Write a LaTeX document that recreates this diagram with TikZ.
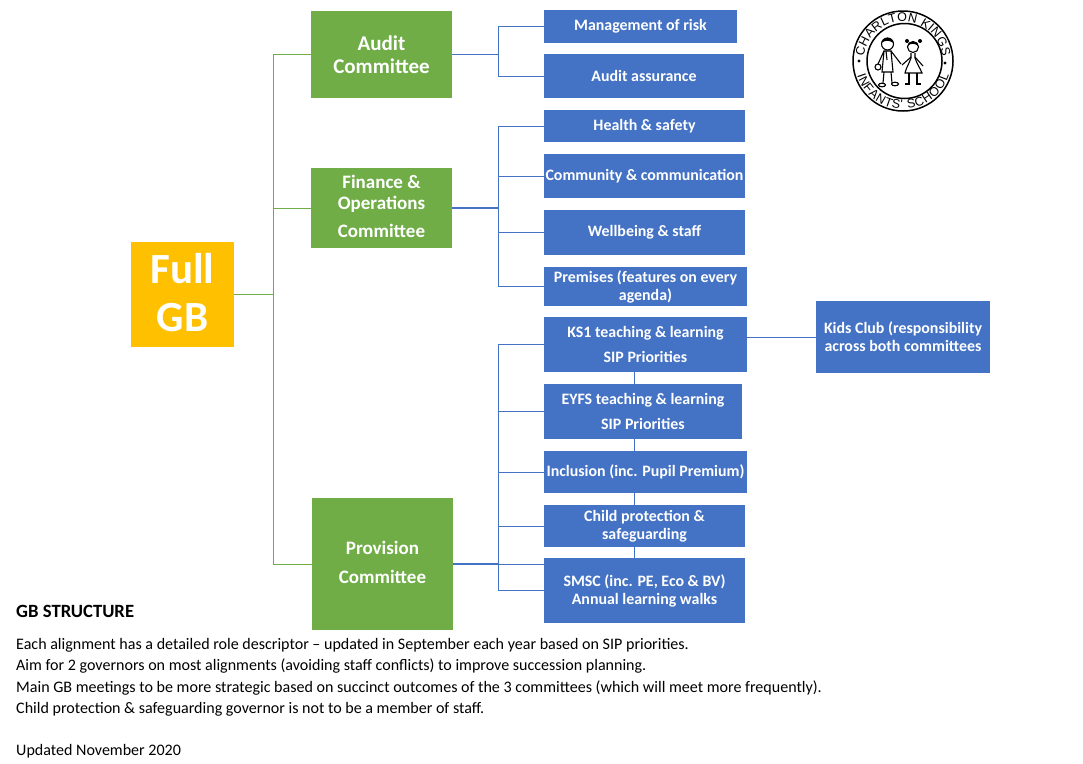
\documentclass[tikz,border=0pt]{standalone}
\usepackage{fontspec}
\setmainfont{Carlito}
\newfontfamily\logofont{Liberation Sans}
\usetikzlibrary{decorations.text}
\definecolor{gbgold}{HTML}{FFC000}
\definecolor{gbgreen}{HTML}{70AD47}
\definecolor{gbblue}{HTML}{4472C4}
\tikzset{
  fullbox/.style={fill=gbgold, text=white, inner sep=0pt, align=center, font=\fontsize{43}{48}\selectfont\bfseries},
  combox/.style={fill=gbgreen, text=white, inner sep=0pt, align=center, font=\fontsize{19}{21}\selectfont\bfseries},
  subbox/.style={fill=gbblue, text=white, inner sep=0pt, align=center, font=\fontsize{15.9}{18}\selectfont\bfseries},
  greenline/.style={draw=gbgreen, line width=0.9pt},
  blueline/.style={draw=gbblue, line width=0.9pt},
  notetext/.style={anchor=base west, inner sep=0pt, font=\fontsize{16.05}{18}\selectfont},
  logoline/.style={line width=1.1pt, black},
  logoletters/.style={decorate, decoration={text along path, text align=fit to path, text={|\logofont\fontsize{12.5}{14}\selectfont|#1}}}
}
\begin{document}
\begin{tikzpicture}[x=1pt, y=-1pt]
    \useasboundingbox (0,0) rectangle (1083,763);
    % Full GB and committees
    \node[fullbox, minimum width=103pt, minimum height=105pt] (fullgb) at (182.5,294.5) {Full\\GB\rule[-4pt]{0pt}{4pt}};
    \node[combox, minimum width=141pt, minimum height=87pt, font=\fontsize{21}{23}\selectfont\bfseries] (audit) at (381.5,54.5) {Audit\\Committee};
    \node[combox, minimum width=141pt, minimum height=80pt] (finance) at (381.5,208) {Finance \&\\Operations\\[7pt]Committee\rule[-3pt]{0pt}{3pt}};
    \node[combox, minimum width=141pt, minimum height=132pt] (provision) at (382.5,564) {Provision\\[8pt]Committee\rule[-4pt]{0pt}{4pt}};
    % Audit alignments
    \node[subbox, minimum width=193pt, minimum height=33pt] (risk) at (640.5,26.5) {Management of risk};
    \node[subbox, minimum width=200pt, minimum height=44pt] (assurance) at (644,76) {Audit assurance};
    % Finance alignments
    \node[subbox, minimum width=201pt, minimum height=32pt] (health) at (644.5,126) {Health \& safety};
    \node[subbox, minimum width=201pt, minimum height=44pt] (community) at (644.5,176) {Community \& communication};
    \node[subbox, minimum width=201pt, minimum height=45pt] (wellbeing) at (644.5,232.5) {Wellbeing \& staff};
    \node[subbox, minimum width=203pt, minimum height=39pt] (premises) at (645.5,286.5) {Premises (features on every\\agenda)};
    % Provision alignments
    \node[subbox, minimum width=203pt, minimum height=55pt] (ks1) at (645.5,344.5) {KS1 teaching \& learning\\[7pt]SIP Priorities};
    \node[subbox, minimum width=198pt, minimum height=55pt] (eyfs) at (643,411.5) {EYFS teaching \& learning\\[7pt]SIP Priorities};
    \node[subbox, minimum width=203pt, minimum height=42pt] (inclusion) at (645.5,472) {Inclusion (inc. Pupil Premium)};
    \node[subbox, minimum width=201pt, minimum height=42pt] (child) at (644.5,526) {Child protection \&\\safeguarding};
    \node[subbox, minimum width=201pt, minimum height=65pt] (smsc) at (644.5,590.5) {SMSC (inc. PE, Eco \& BV)\\Annual learning walks};
    \node[subbox, minimum width=174pt, minimum height=72pt] (kids) at (903,337) {Kids Club (responsibility\\across both committees};
    % Joins
    \coordinate (gbtrunk) at (273,294.5);
    \coordinate (auditjoin) at (498,54.5);
    \coordinate (financejoin) at (498,208);
    \coordinate (provisionjoin) at (498,564);
    \coordinate (provisionlink) at (634,0);
    % Green connectors
    \draw[greenline, line width=1.4pt] (fullgb.east) -- (gbtrunk);
    \draw[greenline] (gbtrunk) |- (audit.west);
    \draw[greenline] (gbtrunk) |- (finance.west);
    \draw[greenline] (gbtrunk) |- (provision.west);
    % Blue connectors
    \draw[blueline] (audit.east) -- (auditjoin);
    \draw[blueline] (auditjoin) |- (risk.west);
    \draw[blueline] (auditjoin) |- (assurance.west);
    \draw[blueline, line width=1.4pt] (finance.east) -- (financejoin);
    \draw[blueline] (financejoin) |- (health.west);
    \draw[blueline] (financejoin) |- (community.west);
    \draw[blueline] (financejoin) |- (wellbeing.west);
    \draw[blueline] (financejoin) |- (premises.west);
    \draw[blueline, line width=1.4pt] (provision.east) -- (provisionjoin);
    \draw[blueline] (provisionjoin) -- (smsc.west |- provisionjoin);
    \draw[blueline] (provisionjoin) |- (ks1.west);
    \draw[blueline] (provisionjoin) |- (eyfs.west);
    \draw[blueline] (provisionjoin) |- (inclusion.west);
    \draw[blueline] (provisionjoin) |- (child.west);
    \draw[blueline] (provisionjoin) |- (smsc.west);
    \draw[blueline] (ks1.south -| provisionlink) -- (eyfs.north -| provisionlink);
    \draw[blueline] (eyfs.south -| provisionlink) -- (inclusion.north -| provisionlink);
    \draw[blueline] (inclusion.south -| provisionlink) -- (child.north -| provisionlink);
    \draw[blueline] (child.south -| provisionlink) -- (smsc.north -| provisionlink);
    \draw[blueline] (ks1.east |- kids.west) -- (kids.west);
    % Notes
    \node[notetext, font=\fontsize{18.7}{20}\selectfont\bfseries] (notehead) at (16,617) {GB STRUCTURE};
    \node[notetext] (noteone) at (16,649) {Each alignment has a detailed role descriptor – updated in September each year based on SIP priorities.};
    \node[notetext] (notetwo) at (16,670) {Aim for 2 governors on most alignments (avoiding staff conflicts) to improve succession planning.};
    \node[notetext] (notethree) at (16,692) {Main GB meetings to be more strategic based on succinct outcomes of the 3 committees (which will meet more frequently).};
    \node[notetext] (notefour) at (16,713) {Child protection \& safeguarding governor is not to be a member of staff.};
    \node[notetext] (noteupdated) at (16,755) {Updated November 2020};
    % Logo
    \draw[logoline, line width=1.5pt] (903,61) circle (50);
    \draw[logoline, line width=1.5pt] (904.5,61) circle (37.5);
    \path[logoletters={CHARLTON KINGS}] (903,61) ++(187:39.5) arc[start angle=187, end angle=353, radius=39.5];
    \path[logoletters={INFANTS' SCHOOL}] (903,61) ++(163:48) arc[start angle=163, end angle=17, radius=48];
    \fill (859,61) circle (1.6);
    \fill (945,63) circle (1.6);
    % Boy
    \draw[logoline] (887.5,44) circle (6);
    \fill (881.5,43) .. controls (882,36) and (893,36) .. (893.5,43) .. controls (889,40) and (885,40) .. cycle;
    \draw[logoline] (884,51) -- (878,64);
    \draw[logoline] (891,51) -- (901,64);
    \draw[logoline] (884,51) -- (891,51) -- (893,72) -- (882,72) -- cycle;
    \draw[logoline] (886,51) -- (887,60);
    \draw[logoline] (878,67) circle (3);
    \draw[logoline] (884,72) -- (883,83) (891,72) -- (892,83);
    \draw[logoline] (882,85) ellipse (3.5 and 1.8);
    \draw[logoline] (895,84) ellipse (3.5 and 1.8);
    % Girl
    \draw[logoline] (913,47) circle (5.5);
    \fill (907.5,46) .. controls (908,40) and (918,40) .. (918.5,46) .. controls (914,43) and (911,43) .. cycle;
    \fill (907,41) circle (2);
    \fill (920,41) circle (2);
    \draw[logoline] (911,53) -- (911,58) .. controls (909,64) and (906,68) .. (905,73) -- (922,73) .. controls (920,68) and (917,64) .. (915,58) -- (915,53);
    \draw[logoline] (911,57) -- (902,65);
    \draw[logoline] (915,57) -- (923,66);
    \draw[logoline] (909,73) -- (909,84) -- (905,84);
    \draw[logoline] (917,73) -- (917,84) -- (921,84);
\end{tikzpicture}
\end{document}
